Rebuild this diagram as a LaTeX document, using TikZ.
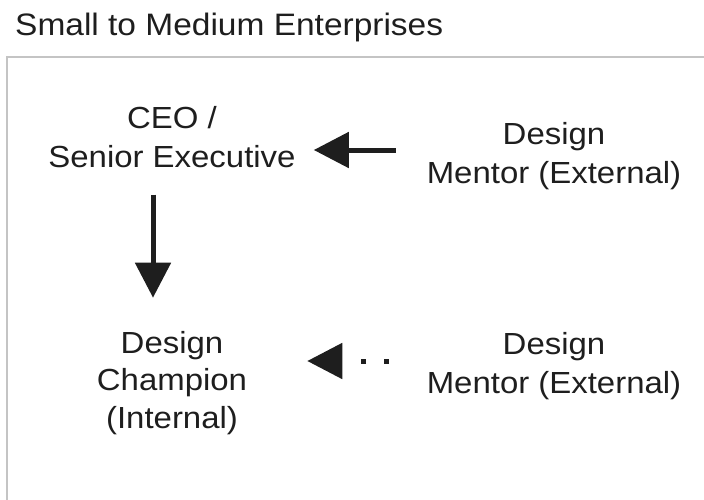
\documentclass[tikz,border=0pt]{standalone}
\usepackage{fontspec}
\setmainfont{Liberation Sans}[FakeStretch=1.08]
\usetikzlibrary{arrows.meta}
\definecolor{ink}{HTML}{1E1E1E}
\definecolor{frame}{HTML}{C4C4C4}
\tikzset{
  lbl/.style={inner sep=0pt, align=center, anchor=base, text=ink,
    font=\fontsize{30.5}{39}\selectfont},
  ttl/.style={inner sep=0pt, anchor=base west, text=ink,
    font=\fontsize{31}{39}\selectfont},
  arr/.style={line width=5pt, draw=ink,
    -{Triangle[length=35pt,width=35pt]}},
  frameline/.style={draw=frame, line width=1.6pt},
}
\begin{document}
\begin{tikzpicture}[x=1pt,y=1pt]
\useasboundingbox (0,0) rectangle (704,-499);
\clip (0,0) rectangle (704,-499);
\fill[white] (0,0) rectangle (704,-499);
\node[ttl] (title) at (15,-35) {Small to Medium Enterprises};
\draw[frameline] (7,-520) -- (7,-57) -- (720,-57);
\node[lbl] (ceo) at (172,-167) {CEO /\\Senior Executive};
\node[lbl] (mentorA) at (554,-183) {Design\\Mentor (External)};
\node[lbl, font=\fontsize{30.5}{37.5}\selectfont] (champ) at (172,-428) {Design\\Champion\\(Internal)};
\node[lbl] (mentorB) at (554,-393) {Design\\Mentor (External)};
\coordinate (r1) at (0,-150);
\coordinate (r2) at (0,-361);
\coordinate (c1) at (153,0);
\draw[arr, shorten <=31pt, shorten >=18pt] (mentorA.west |- r1) -- (ceo.east |- r1);
\draw[arr, shorten <=27pt, shorten >=33pt] (ceo.south -| c1) -- (champ.north -| c1);
\draw[arr, shorten <=37.5pt, shorten >=60pt, dash pattern=on 5pt off 18pt on 5pt off 60pt] (mentorB.west |- r2) -- (champ.east |- r2);
\end{tikzpicture}
\end{document}
